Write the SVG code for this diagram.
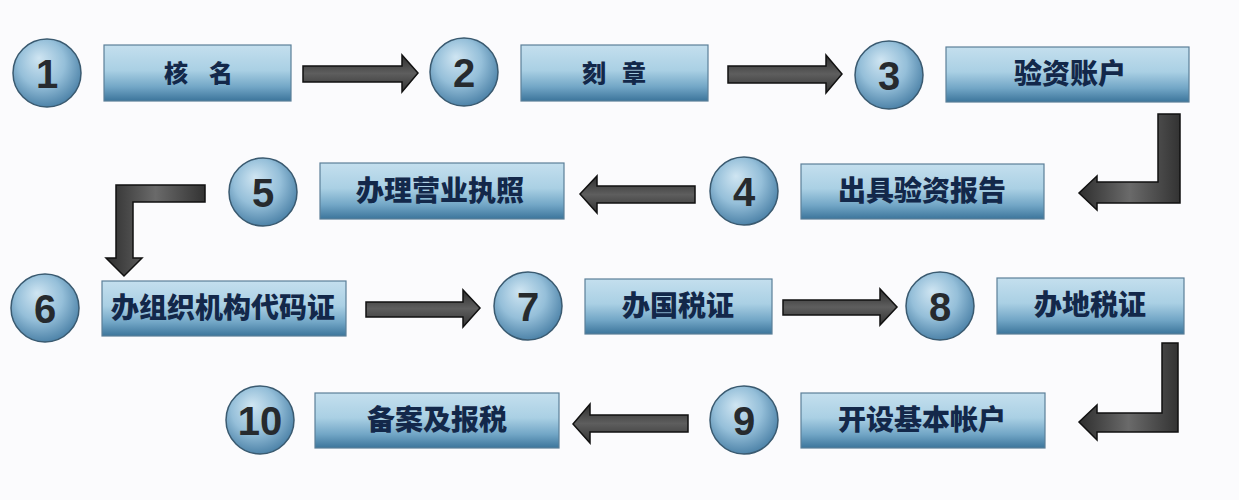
<svg xmlns="http://www.w3.org/2000/svg" width="1239" height="500" viewBox="0 0 1239 500">
<defs>
<linearGradient id="boxg" x1="0" y1="0" x2="0" y2="1">
<stop offset="0" stop-color="#c4dfee"/>
<stop offset="0.45" stop-color="#aad0e4"/>
<stop offset="0.75" stop-color="#72a6c6"/>
<stop offset="1" stop-color="#3c759b"/>
</linearGradient>
<radialGradient id="circg" cx="0.45" cy="0.4" r="0.62" fx="0.38" fy="0.28">
<stop offset="0" stop-color="#cfe5f2"/>
<stop offset="0.55" stop-color="#95bfd9"/>
<stop offset="1" stop-color="#4a80a6"/>
</radialGradient>
<linearGradient id="arrh" x1="0" y1="0" x2="0" y2="1">
<stop offset="0" stop-color="#2e2e2e"/>
<stop offset="0.5" stop-color="#5e5e5e"/>
<stop offset="1" stop-color="#333"/>
</linearGradient>
<linearGradient id="arrv" x1="0" y1="0" x2="1" y2="0">
<stop offset="0" stop-color="#2e2e2e"/>
<stop offset="0.5" stop-color="#6a6a6a"/>
<stop offset="1" stop-color="#333"/>
</linearGradient>
</defs>
<style>
.box{fill:url(#boxg);stroke:#5b7f98;stroke-width:1.2}
.circ{fill:url(#circg);stroke:#3a5a70;stroke-width:1.5}
.num{font-family:"Liberation Sans",Arial,sans-serif;font-weight:bold;font-size:40px;fill:#262a2e;text-anchor:middle}
.lbl{font-family:"Noto Sans CJK SC","Noto Sans",sans-serif;font-weight:900;font-size:28px;fill:#13284a;text-anchor:middle}
.sm{font-size:24px}
.arr{fill:url(#arrh);stroke:#111;stroke-width:1.5;stroke-linejoin:miter}
.arrv{fill:url(#arrv);stroke:#111;stroke-width:1.5}
</style>
<rect width="1239" height="500" fill="#fbfbfd"/>

<g id="connectors">
<path class="arr" d="M303,66 H402 V55 L418,73 L402,92 V82 H303 Z"/>
<path class="arr" d="M728,66 H826 V55 L842,74 L826,93 V83 H728 Z"/>
<path class="arrv" d="M1158,114 H1180 V203 H1097 V210 L1079,193 L1097,176 V182 H1158 Z"/>
<path class="arr" d="M695,186 H597 V176 L580,194 L597,213 V203 H695 Z"/>
<path class="arrv" d="M205,185 V202 H133 V258 H142 L124,276 L106,258 H116 V185 Z"/>
<path class="arr" d="M366,302 H463 V290 L480,308 L463,327 V317 H366 Z"/>
<path class="arr" d="M783,300 H880 V289 L897,307 L880,325 V315 H783 Z"/>
<path class="arrv" d="M1162,343 H1178 V432 H1097 V440 L1079,422 L1097,405 V413 H1162 Z"/>
<path class="arr" d="M688,415 H590 V404 L573,424 L590,443 V432 H688 Z"/>
</g>

<g id="node1"><circle class="circ" cx="47" cy="73" r="34"/><text class="num" x="47" y="88">1</text></g>
<g id="step1"><rect class="box" x="104" y="45" width="187" height="56"/><text class="lbl sm" x="198" y="82"><tspan x="176">核</tspan><tspan x="221">名</tspan></text></g>

<g id="node2"><circle class="circ" cx="464" cy="72" r="34"/><text class="num" x="464" y="87">2</text></g>
<g id="step2"><rect class="box" x="521" y="45" width="187" height="56"/><text class="lbl sm" x="614" y="82"><tspan x="594">刻</tspan><tspan x="634">章</tspan></text></g>

<g id="node3"><circle class="circ" cx="889" cy="75" r="34"/><text class="num" x="889" y="90">3</text></g>
<g id="step3"><rect class="box" x="946" y="47" width="243" height="55"/><text class="lbl" x="1070" y="84">验资账户</text></g>

<g id="node4"><circle class="circ" cx="744" cy="191" r="34"/><text class="num" x="744" y="206">4</text></g>
<g id="step4"><rect class="box" x="801" y="164" width="243" height="55"/><text class="lbl" x="922" y="201">出具验资报告</text></g>

<g id="node5"><circle class="circ" cx="263" cy="192" r="34"/><text class="num" x="263" y="207">5</text></g>
<g id="step5"><rect class="box" x="320" y="163" width="244" height="56"/><text class="lbl" x="440" y="201">办理营业执照</text></g>

<g id="node6"><circle class="circ" cx="45" cy="308" r="34"/><text class="num" x="45" y="323">6</text></g>
<g id="step6"><rect class="box" x="102" y="281" width="244" height="55"/><text class="lbl" x="223" y="318">办组织机构代码证</text></g>

<g id="node7"><circle class="circ" cx="528" cy="306" r="34"/><text class="num" x="528" y="321">7</text></g>
<g id="step7"><rect class="box" x="585" y="279" width="187" height="55"/><text class="lbl" x="678" y="316">办国税证</text></g>

<g id="node8"><circle class="circ" cx="940" cy="306" r="34"/><text class="num" x="940" y="321">8</text></g>
<g id="step8"><rect class="box" x="997" y="278" width="187" height="56"/><text class="lbl" x="1090" y="315">办地税证</text></g>

<g id="node9"><circle class="circ" cx="744" cy="420" r="34"/><text class="num" x="744" y="435">9</text></g>
<g id="step9"><rect class="box" x="801" y="393" width="244" height="55"/><text class="lbl" x="922" y="430">开设基本帐户</text></g>

<g id="node10"><circle class="circ" cx="260" cy="420" r="34"/><text class="num" x="260" y="435">10</text></g>
<g id="step10"><rect class="box" x="315" y="393" width="244" height="55"/><text class="lbl" x="437" y="430">备案及报税</text></g>
</svg>
